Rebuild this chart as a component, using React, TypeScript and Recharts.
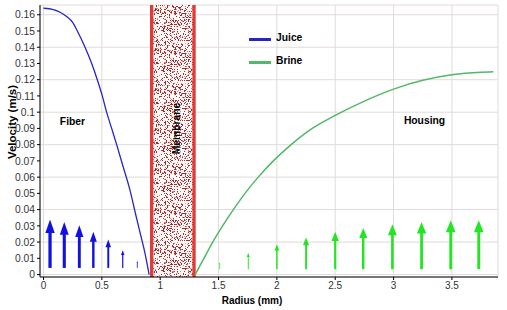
import {
  ComposedChart,
  Line,
  Scatter,
  XAxis,
  YAxis,
  CartesianGrid,
  ReferenceArea,
  ReferenceLine,
  ReferenceDot,
  Legend,
} from "recharts";

// velocity profiles (radius in mm, velocity in m/s)
const juiceRadius = [0, 0.05, 0.1, 0.15, 0.2, 0.25, 0.29, 0.356, 0.413, 0.461, 0.504, 0.541, 0.584, 0.627, 0.68, 0.741, 0.79, 0.827, 0.87, 0.905];
const juiceVelocity = [0.164, 0.1637, 0.1628, 0.1612, 0.1588, 0.1553, 0.15, 0.14, 0.13, 0.12, 0.11, 0.1, 0.09, 0.08, 0.067, 0.052, 0.037, 0.026, 0.013, 0];

const brineRadius = [1.3, 1.375, 1.45, 1.535, 1.627, 1.727, 1.84, 1.97, 2.1, 2.3, 2.5, 2.75, 3.0, 3.25, 3.5, 3.75, 3.855];
const brineVelocity = [0, 0.01, 0.02, 0.03, 0.04, 0.05, 0.06, 0.07, 0.0786, 0.0898, 0.098, 0.1068, 0.1142, 0.1196, 0.123, 0.1246, 0.1249];

// flow arrows
const juiceArrowX = [0.056, 0.178, 0.307, 0.427, 0.555, 0.679, 0.804];
const juiceArrowTip = [0.0339, 0.0324, 0.0304, 0.0263, 0.0216, 0.015, 0.0084];
const juiceArrowBase = 0.0041;

const brineArrowX = [1.51, 1.755, 2.0, 2.25, 2.5, 2.74, 2.99, 3.24, 3.49, 3.73];
const brineArrowTip = [0.0075, 0.0133, 0.0185, 0.0228, 0.0263, 0.0287, 0.031, 0.0324, 0.0335, 0.0335];
const brineArrowBase = 0.0033;

const membraneEdges = [0.927, 1.29];

const xTicks = [0, 0.5, 1, 1.5, 2, 2.5, 3, 3.5];
const yTicks = [0, 0.01, 0.02, 0.03, 0.04, 0.05, 0.06, 0.07, 0.08, 0.09, 0.1, 0.11, 0.12, 0.13, 0.14, 0.15, 0.16];

const legendOrder = ["Juice", "Brine"];

const regionLabels = [
  { x: 0.248, y: 0.0945, text: "Fiber", angle: 0 },
  { x: 1.141, y: 0.0899, text: "Membrane", angle: -90 },
  { x: 3.265, y: 0.095, text: "Housing", angle: 0 },
];

const juiceData = juiceRadius.map((x, i) => ({ x, v: juiceVelocity[i] }));
const brineData = brineRadius.map((x, i) => ({ x, v: brineVelocity[i] }));
const juiceArrows = juiceArrowX.map((x, i) => ({ x, y: juiceArrowTip[i], mag: juiceArrowTip[i] - juiceArrowBase }));
const brineArrows = brineArrowX.map((x, i) => ({ x, y: brineArrowTip[i], mag: brineArrowTip[i] - brineArrowBase }));

const JUICE = "#2626c8";
const BRINE = "#52b867";
const JUICE_ARROW = "#1212e0";
const BRINE_ARROW = "#22e622";

const arrowHead = (color: string, pxPerMag: number, ratio: number) => (p: any) => {
  const h = p.payload.mag * pxPerMag;
  const w = h * ratio;
  return (
    <polygon
      points={`${p.cx},${p.cy} ${p.cx - w / 2},${p.cy + h} ${p.cx + w / 2},${p.cy + h}`}
      fill={color}
    />
  );
};

// speckle texture for the membrane (integer hash, no randomness)
const TILE = 40;
const speckles: Array<{ x: number; y: number; c: string }> = [];
for (let i = 0; i < TILE; i++) {
  for (let j = 0; j < TILE; j++) {
    let h = (i * 374761393 + j * 668265263) | 0;
    h = Math.imul(h ^ (h >>> 13), 1274126177);
    h ^= h >>> 16;
    const v = (h >>> 0) % 100;
    if (v < 27) speckles.push({ x: i, y: j, c: v < 8 ? "#d08888" : "#a82a2a" });
  }
}

const renderLegend = (props: any) => {
  const items = legendOrder
    .map((name) => props.payload.find((e: any) => e.value === name))
    .filter(Boolean);
  return (
    <div style={{ fontSize: 10.3, fontWeight: "bold", color: "#000" }}>
      {items.map((e: any) => (
        <div key={e.value} style={{ display: "flex", alignItems: "center", height: 23 }}>
          <span style={{ width: 22, height: 3, background: e.color, marginRight: 5, marginTop: 4 }} />
          <span>{e.value}</span>
        </div>
      ))}
    </div>
  );
};

export default function App() {
  return (
    <div style={{ position: "absolute", left: 0, top: 0, fontFamily: "'Liberation Sans', Arial, sans-serif", background: "#fff" }}>
      <svg width={0} height={0} style={{ position: "absolute" }}>
        <defs>
          <pattern id="speckle" width={TILE} height={TILE} patternUnits="userSpaceOnUse">
            <rect width={TILE} height={TILE} fill="#fdf8f8" />
            {speckles.map((s, k) => (
              <rect key={k} x={s.x} y={s.y} width={1} height={1} fill={s.c} />
            ))}
          </pattern>
        </defs>
      </svg>
      <ComposedChart width={507} height={310} margin={{ top: 5, right: 9, bottom: 0, left: 0 }}>
        <CartesianGrid stroke="#e2dada" />
        <XAxis
          type="number"
          dataKey="x"
          domain={[-0.03, 3.895]}
          ticks={xTicks}
          allowDataOverflow
          height={33}
          tickSize={3}
          stroke="#000"
          tick={{ fontSize: 10, fill: "#333" }}
          label={{ value: "Radius (mm)", position: "center", dx: -17, dy: 7, fontSize: 10, fontWeight: "bold", fill: "#000" }}
        />
        <XAxis xAxisId="top" orientation="top" type="number" domain={[-0.03, 3.895]} ticks={xTicks} height={0} mirror tick={false} tickSize={3} stroke="#000" />
        <YAxis
          type="number"
          domain={[-0.0015, 0.166]}
          ticks={yTicks}
          allowDataOverflow
          width={40}
          tickSize={3}
          stroke="#000"
          tick={{ fontSize: 10.3, fill: "#333" }}
          label={{ value: "Velocity (m/s)", angle: -90, position: "center", dx: -8, dy: -19, fontSize: 11.5, fontWeight: "bold", fill: "#000" }}
        />
        <YAxis yAxisId="right" orientation="right" type="number" domain={[-0.0015, 0.166]} ticks={yTicks} width={0} mirror tick={false} tickSize={3} stroke="#000" />

        <ReferenceArea x1={membraneEdges[0]} x2={membraneEdges[1]} fill="url(#speckle)" fillOpacity={1} />
        {membraneEdges.map((x) => (
          <ReferenceLine key={x} x={x} stroke="#e23a35" strokeWidth={3.3} />
        ))}

        {juiceArrows.map((a) => (
          <ReferenceLine
            key={"j" + a.x}
            segment={[{ x: a.x, y: juiceArrowBase }, { x: a.x, y: a.y - a.mag * 0.2 }]}
            stroke={JUICE_ARROW}
            strokeWidth={Math.max(0.8, a.mag * 110)}
          />
        ))}
        {brineArrows.map((a) => (
          <ReferenceLine
            key={"b" + a.x}
            segment={[{ x: a.x, y: brineArrowBase }, { x: a.x, y: a.y - a.mag * 0.18 }]}
            stroke={BRINE_ARROW}
            strokeWidth={Math.max(0.8, a.mag * 95)}
          />
        ))}
        <Scatter data={juiceArrows} dataKey="y" shape={arrowHead(JUICE_ARROW, 450, 0.7)} legendType="none" isAnimationActive={false} />
        <Scatter data={brineArrows} dataKey="y" shape={arrowHead(BRINE_ARROW, 400, 0.8)} legendType="none" isAnimationActive={false} />

        <Line data={juiceData} dataKey="v" name="Juice" type="monotone" stroke={JUICE} strokeWidth={1.3} dot={false} isAnimationActive={false} />
        <Line data={brineData} dataKey="v" name="Brine" type="monotone" stroke={BRINE} strokeWidth={1.5} dot={false} isAnimationActive={false} />

        {regionLabels.map((l) => (
          <ReferenceDot
            key={l.text}
            x={l.x}
            y={l.y}
            r={0}
            stroke="none"
            label={{ value: l.text, position: "center", angle: l.angle, fontSize: 10.3, fontWeight: "bold", fill: "#000" }}
          />
        ))}

        <Legend
          layout="vertical"
          align="center"
          verticalAlign="middle"
          wrapperStyle={{ left: 249, top: 26, width: "auto" }}
          content={renderLegend}
        />
      </ComposedChart>
    </div>
  );
}
